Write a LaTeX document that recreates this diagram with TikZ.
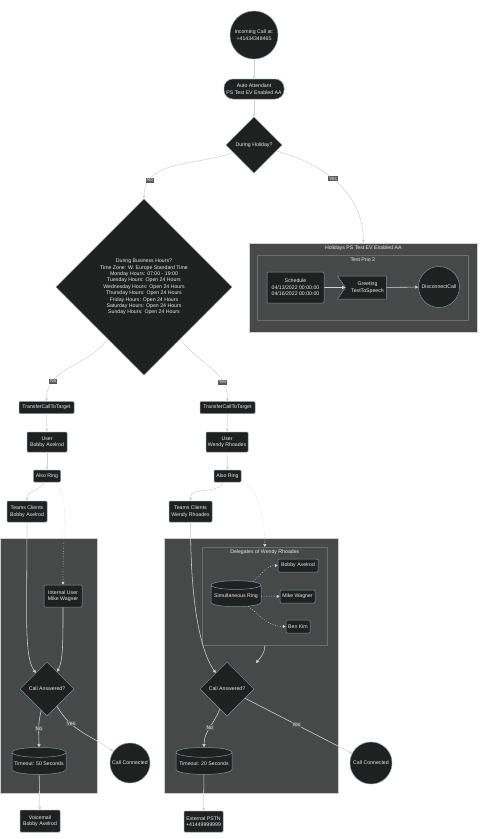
\documentclass[tikz,border=0pt]{standalone}
\usepackage{fontspec}
\setmainfont{Liberation Sans}
\usetikzlibrary{shapes.geometric}
\usetikzlibrary{shapes.symbols}
\usetikzlibrary{arrows.meta}
\usetikzlibrary{positioning}
\definecolor{nodebg}{HTML}{1F2020}
\definecolor{nodeedge}{HTML}{7C91A6}
\definecolor{clusterbg}{HTML}{474949}
\definecolor{clusteredge}{HTML}{CFCFCF}
\definecolor{inneredge}{HTML}{6C6E6E}
\definecolor{edgec}{HTML}{D3D3D3}
\definecolor{lblbg}{HTML}{5A5A5A}
\definecolor{txt}{HTML}{E8E8E8}

\begin{document}
\begin{tikzpicture}[x=1pt,y=1pt,font=\fontsize{5.2}{6.4}\selectfont,
  box/.style={rectangle,draw=nodeedge,fill=nodebg,text=txt,align=center,rounded corners=1pt,inner sep=1pt,line width=0.5pt},
  stadium/.style={box,rounded corners=9pt},
  decision/.style={diamond,draw=nodeedge,fill=nodebg,text=txt,align=center,inner sep=0pt,line width=0.5pt},
  endpoint/.style={circle,draw=nodeedge,fill=nodebg,text=txt,align=center,inner sep=0pt,line width=0.5pt},
  store/.style={cylinder,shape border rotate=90,aspect=0.2,draw=nodeedge,fill=nodebg,text=txt,align=center,inner sep=0pt,line width=0.5pt},
  greetbox/.style={signal,signal from=west,signal to=nothing,signal pointer angle=110,draw=nodeedge,fill=nodebg,text=txt,align=center,inner sep=0pt,line width=0.5pt},
  cluster/.style={rectangle,draw=clusteredge,fill=clusterbg,anchor=north west,inner sep=0pt,line width=0.6pt},
  subcluster/.style={rectangle,draw=inneredge,fill=clusterbg,anchor=north west,inner sep=0pt,line width=0.6pt},
  ctitle/.style={text=txt,inner sep=0pt},
  lbl/.style={fill=lblbg,text=txt,inner sep=0.8pt,font=\fontsize{5}{5.5}\selectfont},
  flow/.style={draw=edgec,line width=0.55pt,-{Triangle[length=3pt,width=3pt]}},
  dotflow/.style={flow,dotted,line width=0.7pt}]
\useasboundingbox (0,0) rectangle (480,-839);

\node [cluster,minimum width=228pt,minimum height=89pt] (holcl) at (249,-243) {};
\node [ctitle,below=2.5pt of holcl.north] (holtitle) {Holidays PS Test EV Enabled AA};
\node [subcluster,minimum width=211pt,minimum height=65pt] (prio) at (257,-255) {};
\node [ctitle,below=2.5pt of prio.north] (priotitle) {Test Prio 2};
\node [cluster,minimum width=97pt,minimum height=255pt] (grpbobby) at (0,-538) {};
\node [cluster,minimum width=174pt,minimum height=255pt] (grpwendy) at (164,-538) {};
\node [subcluster,minimum width=125pt,minimum height=98pt] (delg) at (202,-547) {};
\node [ctitle,below=3pt of delg.north] (delgtitle) {Delegates of Wendy Rhoades};

\node [endpoint,minimum size=48pt] (incoming) at (254,-35) {Incoming Call at:\\+41434348465};
\node [stadium,minimum width=60pt,minimum height=20pt] (auto) at (254,-89) {Auto Attendant\\PS Test EV Enabled AA};
\node [decision,minimum size=56pt] (hol) at (254,-145) {During Holiday?};
\node [decision,minimum size=176pt] (biz) at (144,-287) {During Business Hours?\\Time Zone: W. Europe Standard Time\\Monday Hours: 07:00 - 19:00\\Tuesday Hours: Open 24 Hours\\Wednesday Hours: Open 24 Hours\\Thursday Hours: Open 24 Hours\\Friday Hours: Open 24 Hours\\Saturday Hours: Open 24 Hours\\Sunday Hours: Open 24 Hours};

\node [box,minimum width=57pt,minimum height=31pt] (sched) at (295.5,-287.5) {Schedule\\04/13/2022 00:00:00\\04/16/2022 00:00:00};
\node [greetbox,minimum width=49pt,minimum height=23pt] (greet) at (366,-287.5) {\hspace*{3pt}Greeting\\\hspace*{3pt}TextToSpeech};
\node [endpoint,minimum size=41pt] (disc) at (439,-287) {DisconnectCall};

\node [box,minimum width=55pt,minimum height=12pt] (tl) at (46.5,-407.5) {TransferCallToTarget};
\node [box,minimum width=55pt,minimum height=12pt] (tr) at (227.5,-407.5) {TransferCallToTarget};
\node [box,minimum width=40pt,minimum height=20pt] (ul) at (47,-442) {User\\Bobby Axelrod};
\node [box,minimum width=42pt,minimum height=20pt] (ur) at (227,-442) {User\\Wendy Rhoades};
\node [box,minimum width=27pt,minimum height=12pt] (al) at (47,-476) {Also Ring};
\node [box,minimum width=27pt,minimum height=12pt] (ar) at (227.5,-476) {Also Ring};
\node [box,minimum width=40pt,minimum height=21pt] (tcl) at (27,-511.5) {Teams Clients\\Bobby Axelrod};
\node [box,minimum width=43pt,minimum height=21pt] (tcr) at (190.5,-511.5) {Teams Clients\\Wendy Rhoades};

\node [box,minimum width=38pt,minimum height=22pt] (iu) at (63,-596) {Internal User\\Mike Wagner};
\node [decision,minimum size=54pt] (dl) at (47,-689) {Call Answered?};
\node [store,minimum width=54pt,minimum height=27pt] (to50) at (39,-763.5) {Timeout: 50 Seconds};
\node [endpoint,minimum size=40pt] (ccl) at (130,-763) {Call Connected};
\node [box,minimum width=40pt,minimum height=22pt] (vm) at (40,-821) {Voicemail\\Bobby Axelrod};

\node [store,minimum width=50pt,minimum height=26pt] (simring) at (236,-596) {Simultaneous Ring};
\node [box,minimum width=40pt,minimum height=13pt] (dbob) at (298,-565.5) {Bobby Axelrod};
\node [box,minimum width=35pt,minimum height=13pt] (dmike) at (297.5,-596.5) {Mike Wagner};
\node [box,minimum width=24pt,minimum height=13pt] (dben) at (298,-626.5) {Ben Kim};
\coordinate (delgend) at (256,-663);
\node [decision,minimum size=54pt] (dr) at (227,-689) {Call Answered?};
\node [store,minimum width=56pt,minimum height=27pt] (to20) at (204,-763.5) {Timeout: 20 Seconds};
\node [endpoint,minimum size=42pt] (ccr) at (371,-763) {Call Connected};
\node [box,minimum width=39pt,minimum height=21pt] (pstn) at (203.5,-821.5) {External PSTN\\+41449999999};

\draw [flow] (incoming) -- (auto);
\draw [flow] (auto) -- (hol);
\draw [flow] (hol) to [out=200,in=90] node [lbl,pos=0.8] {No} (biz);
\draw [flow] (hol) to [out=-15,in=90] node [lbl,pos=0.45] {Yes} (holcl);
\draw [flow] (sched) -- (greet);
\draw [flow] (greet) -- (disc);
\draw [flow] (biz) to [out=-125,in=90] node [lbl,pos=0.75] {No} (tl);
\draw [flow] (biz) to [out=-55,in=90] node [lbl,pos=0.75] {Yes} (tr);
\draw [flow] (tl) -- (ul);
\draw [flow] (ul) -- (al);
\draw [flow] (tr) -- (ur);
\draw [flow] (ur) -- (ar);
\draw [flow] (al) to [out=-115,in=90] (tcl);
\draw [dotflow] (al) to [out=-40,in=90,out looseness=0.5,in looseness=1.6] (iu);
\draw [flow] (tcl) to [out=-90,in=125,out looseness=1.6,in looseness=0.35] (dl);
\draw [flow] (iu) to [out=-90,in=60,out looseness=1.2,in looseness=0.5] (dl);
\draw [flow] (dl) to [out=-105,in=90] node [lbl] {No} (to50);
\draw [flow] (dl) to [out=-60,in=145] node [lbl,pos=0.3] {Yes} (ccl);
\draw [flow] (to50) -- (vm);
\draw [flow] (ar) to [out=-120,in=90] (tcr);
\draw [dotflow] (ar) to [out=-20,in=90,out looseness=0.5,in looseness=1.4] (delg);
\draw [dotflow] (simring) to [out=40,in=180] (dbob);
\draw [dotflow] (simring) -- (dmike);
\draw [dotflow] (simring) to [out=-40,in=180] (dben);
\draw [flow] (delg) to [out=-90,in=50] (delgend);
\draw [flow] (tcr) to [out=-90,in=125,out looseness=1.6,in looseness=0.35] (dr);
\draw [flow] (dr) to [out=-110,in=90] node [lbl] {No} (to20);
\draw [flow] (dr) -- node [lbl,pos=0.48] {Yes} (ccr);
\draw [flow] (to20) -- (pstn);
\end{tikzpicture}
\end{document}
